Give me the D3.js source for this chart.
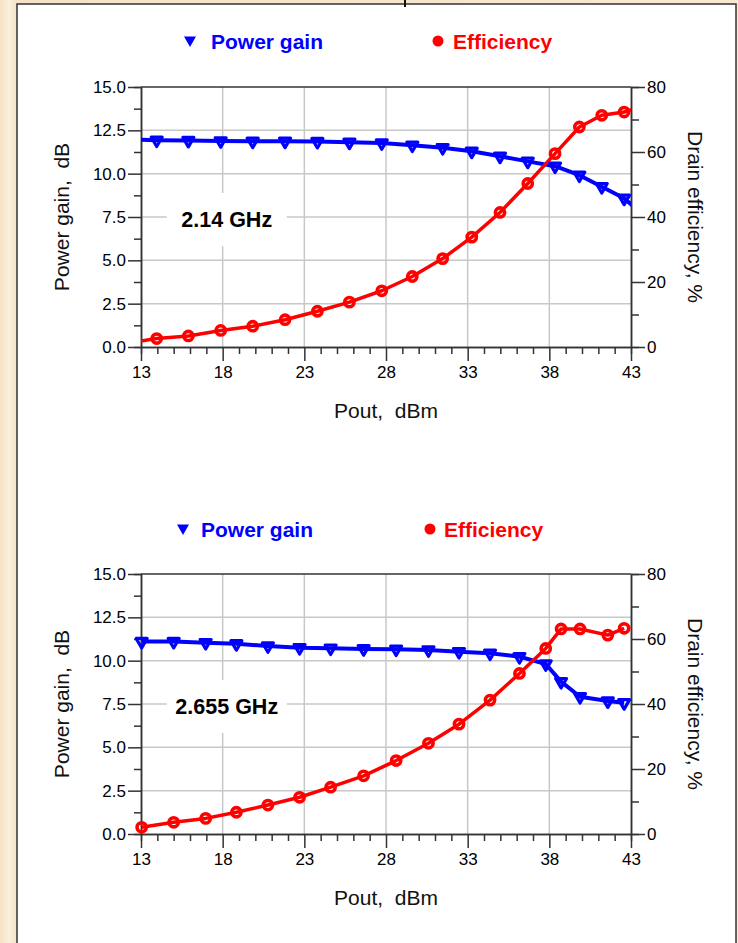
<!DOCTYPE html>
<html>
<head>
<meta charset="utf-8">
<script src="https://cdn.jsdelivr.net/npm/d3@7"></script>
<style>
  html, body { margin: 0; padding: 0; background: #f8e9d2; }
  svg { display: block; }
  text { font-family: "Liberation Sans", Arial, sans-serif; }
</style>
</head>
<body>
<svg id="chart" width="738" height="943"></svg>
<script>
// Output power sweep, 2.14 GHz (first and last entries lie just outside the axis range)
const pout2140 = [12.0, 13.96, 15.90, 17.88, 19.84, 21.82, 23.80, 25.76, 27.74, 29.61, 31.47, 33.25, 34.98, 36.68, 38.35, 39.84, 41.21, 42.58, 43.9];
const gain2140 = [11.98, 11.93, 11.91, 11.89, 11.87, 11.87, 11.85, 11.81, 11.77, 11.64, 11.50, 11.29, 11.00, 10.71, 10.43, 9.91, 9.25, 8.58, 7.5];
const eff2140  = [1.1, 2.6, 3.4, 5.1, 6.4, 8.4, 11.0, 13.8, 17.3, 21.7, 27.2, 33.8, 41.4, 50.3, 59.5, 67.7, 71.3, 72.3, 74.5];

// Output power sweep, 2.655 GHz
const pout2655 = [13.04, 15.0, 16.96, 18.84, 20.77, 22.71, 24.61, 26.63, 28.62, 30.60, 32.47, 34.37, 36.17, 37.78, 38.72, 39.88, 41.58, 42.58];
const gain2655 = [11.10, 11.10, 11.04, 10.97, 10.85, 10.75, 10.72, 10.68, 10.66, 10.62, 10.52, 10.43, 10.23, 9.81, 8.79, 7.92, 7.67, 7.57];
const eff2655  = [2.05, 3.6, 4.8, 6.7, 8.9, 11.3, 14.4, 17.9, 22.6, 27.9, 33.8, 41.2, 49.4, 57.1, 63.1, 63.1, 61.2, 63.3];

// Axis ticks
const xTicks = [13, 18, 23, 28, 33, 38, 43];
const gainTicks = [0, 2.5, 5, 7.5, 10, 12.5, 15];
const effTicks = [0, 20, 40, 60, 80];

const legendNames = ["Power gain", "Efficiency"];
const freqLabels = ["2.14 GHz", "2.655 GHz"];

const BLUE = "#0000ff", RED = "#ff0000", AXIS = "#333", GRID = "#c8c8c8";

const svg = d3.select("#chart");

// Parchment backdrop and white panel
const defs = svg.append("defs");
const grad = defs.append("linearGradient").attr("id", "paper").attr("x1", 0).attr("x2", 1).attr("y1", 0).attr("y2", 0);
grad.append("stop").attr("offset", "0%").attr("stop-color", "#f6e2c4");
grad.append("stop").attr("offset", "1.2%").attr("stop-color", "#fbf0de");
grad.append("stop").attr("offset", "2.2%").attr("stop-color", "#f5e3c8");
grad.append("stop").attr("offset", "100%").attr("stop-color", "#f8e8d0");
svg.append("rect").attr("width", 738).attr("height", 943).attr("fill", "url(#paper)");
svg.append("rect").attr("x", 17).attr("y", 4).attr("width", 719).attr("height", 960)
  .attr("fill", "#fff").attr("stroke", AXIS).attr("stroke-width", 1.5);
svg.append("line").attr("x1", 405).attr("x2", 405).attr("y1", 0).attr("y2", 7)
  .attr("stroke", "#111").attr("stroke-width", 2);

const panels = [
  { pout: pout2140, gain: gain2140, eff: eff2140, top: 87, label: freqLabels[0],
    legTri: 190, legTxt: 211, legDot: 438, legTxt2: 453, legY: 41 },
  { pout: pout2655, gain: gain2655, eff: eff2655, top: 574, label: freqLabels[1],
    legTri: 183, legTxt: 201, legDot: 430, legTxt2: 444, legY: 529 }
];

const left = 141, right = 631, plotH = 260;

panels.forEach((p, i) => {
  const g = svg.append("g");
  const bottom = p.top + plotH;
  const x = d3.scaleLinear().domain([13, 43]).range([left, right]);
  const yG = d3.scaleLinear().domain([0, 15]).range([bottom, p.top]);
  const yE = d3.scaleLinear().domain([0, 80]).range([bottom, p.top]);

  // Legend
  g.append("path")
    .attr("d", d3.symbol().type(d3.symbolTriangle).size(62)())
    .attr("transform", `translate(${p.legTri},${p.legY - 1}) rotate(180)`)
    .attr("fill", BLUE);
  g.append("text").attr("x", p.legTxt).attr("y", p.legY + 8)
    .attr("font-size", 21).attr("font-weight", "bold").attr("fill", BLUE).text(legendNames[0]);
  g.append("circle").attr("cx", p.legDot).attr("cy", p.legY).attr("r", 5.5).attr("fill", RED);
  g.append("text").attr("x", p.legTxt2).attr("y", p.legY + 8)
    .attr("font-size", 21).attr("font-weight", "bold").attr("fill", RED).text(legendNames[1]);

  // Grid
  const grid = g.append("g").attr("stroke", GRID).attr("stroke-width", 1.5);
  grid.selectAll(".vx").data(xTicks.slice(1, -1)).join("line")
    .attr("x1", d => x(d)).attr("x2", d => x(d)).attr("y1", p.top).attr("y2", bottom);
  grid.selectAll(".hy").data(gainTicks.slice(1, -1)).join("line")
    .attr("x1", left).attr("x2", right).attr("y1", d => yG(d)).attr("y2", d => yG(d));

  // Frequency label on a white patch
  const lx = x(18.25), ly = yG(7.5);
  g.append("rect").attr("x", lx - 60).attr("y", ly - 24).attr("width", 120).attr("height", 53).attr("fill", "#fff");
  g.append("text").attr("x", lx).attr("y", ly + 10).attr("text-anchor", "middle")
    .attr("font-size", 21.5).attr("font-weight", "bold").attr("fill", "#000").text(p.label);

  // Axes
  const axStyle = sel => {
    sel.select(".domain").attr("stroke", AXIS).attr("stroke-width", 1.5);
    sel.selectAll(".tick line").attr("stroke", AXIS).attr("stroke-width", 1.5);
    sel.selectAll(".tick text").attr("font-size", 17).attr("fill", "#000")
      .attr("font-family", "Liberation Sans, Arial, sans-serif");
  };
  // minor ticks
  const xMinor = d3.range(14, 43).filter(v => (v - 13) % 5 !== 0);
  g.append("g").attr("transform", `translate(0,${bottom})`)
    .call(d3.axisBottom(x).tickValues(xMinor).tickSize(7).tickFormat(""))
    .call(axStyle);
  g.append("g").attr("transform", `translate(0,${bottom})`)
    .call(d3.axisBottom(x).tickValues(xTicks).tickSize(14).tickSizeOuter(0).tickPadding(5).tickFormat(d3.format("d")))
    .call(axStyle);
  g.append("g").attr("transform", `translate(${left},0)`)
    .call(d3.axisLeft(yG).tickValues(d3.range(1.25, 15, 2.5)).tickSize(7).tickFormat(""))
    .call(axStyle);
  g.append("g").attr("transform", `translate(${left},0)`)
    .call(d3.axisLeft(yG).tickValues(gainTicks).tickSize(13).tickSizeOuter(0).tickPadding(2).tickFormat(d3.format(".1f")))
    .call(axStyle);
  g.append("g").attr("transform", `translate(${right},0)`)
    .call(d3.axisRight(yE).tickValues([10, 30, 50, 70]).tickSize(8).tickFormat(""))
    .call(axStyle);
  g.append("g").attr("transform", `translate(${right},0)`)
    .call(d3.axisRight(yE).tickValues(effTicks).tickSize(14).tickSizeOuter(0).tickPadding(2).tickFormat(d3.format("d")))
    .call(axStyle);
  g.append("line").attr("x1", left).attr("x2", right).attr("y1", p.top).attr("y2", p.top)
    .attr("stroke", AXIS).attr("stroke-width", 1.5);

  // Axis titles
  g.append("text").attr("transform", `translate(69,${(p.top + bottom) / 2}) rotate(-90)`)
    .attr("text-anchor", "middle").attr("font-size", 21).attr("fill", "#111")
    .attr("xml:space", "preserve").text("Power gain,  dB");
  g.append("text").attr("transform", `translate(688,${(p.top + bottom) / 2}) rotate(90)`)
    .attr("text-anchor", "middle").attr("font-size", 21).attr("fill", "#111").text("Drain efficiency, %");
  g.append("text").attr("x", (left + right) / 2).attr("y", bottom + 71)
    .attr("text-anchor", "middle").attr("font-size", 21).attr("fill", "#111")
    .attr("xml:space", "preserve").text("Pout,  dBm");

  // Series
  const clipId = "clip" + i;
  defs.append("clipPath").attr("id", clipId).append("rect")
    .attr("x", left).attr("y", p.top).attr("width", right - left).attr("height", plotH);

  const ptsG = p.pout.map((v, k) => [v, p.gain[k]]);
  const ptsE = p.pout.map((v, k) => [v, p.eff[k]]);
  const inRange = d => d[0] >= 13 && d[0] <= 43;

  g.append("path").attr("clip-path", `url(#${clipId})`)
    .attr("d", d3.line().x(d => x(d[0])).y(d => yG(d[1]))(ptsG))
    .attr("fill", "none").attr("stroke", BLUE).attr("stroke-width", 4).attr("stroke-linejoin", "round");
  g.append("path").attr("clip-path", `url(#${clipId})`)
    .attr("d", d3.line().x(d => x(d[0])).y(d => yE(d[1]))(ptsE))
    .attr("fill", "none").attr("stroke", RED).attr("stroke-width", 3.5).attr("stroke-linejoin", "round");

  g.selectAll(".tri").data(ptsG.filter(inRange)).join("path")
    .attr("d", d3.symbol().type(d3.symbolTriangle).size(52)())
    .attr("transform", d => `translate(${x(d[0])},${yG(d[1])}) rotate(180)`)
    .attr("fill", "none").attr("stroke", BLUE).attr("stroke-width", 3.2).attr("stroke-linejoin", "round");
  g.selectAll(".dot").data(ptsE.filter(inRange)).join("circle")
    .attr("cx", d => x(d[0])).attr("cy", d => yE(d[1])).attr("r", 4.6)
    .attr("fill", "none").attr("stroke", RED).attr("stroke-width", 3.6);
});
</script>
</body>
</html>
